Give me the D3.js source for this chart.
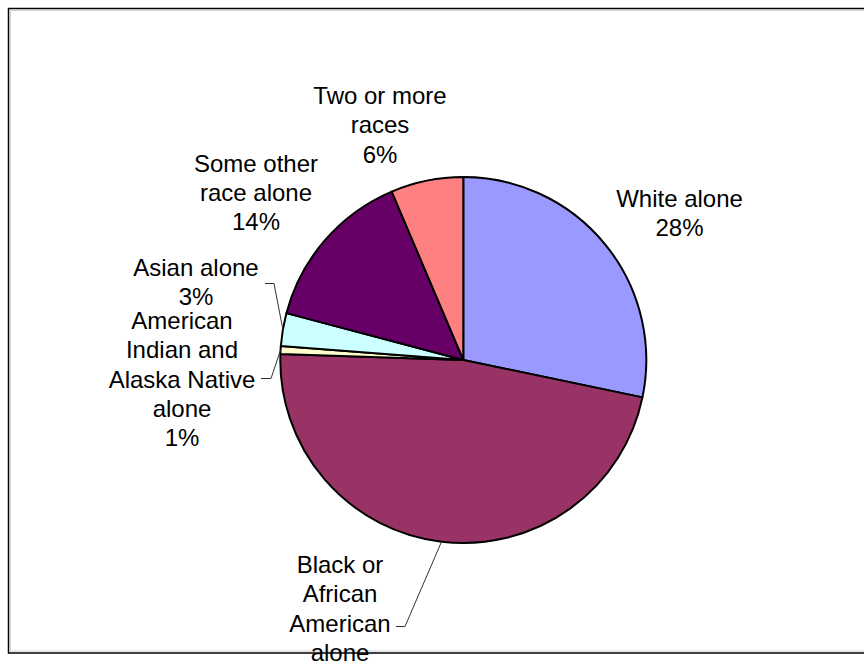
<!DOCTYPE html>
<html><head><meta charset="utf-8">
<script src="https://cdn.jsdelivr.net/npm/d3@7"></script>
<style>body{margin:0;background:#fff}svg{display:block}</style>
</head><body>
<svg id="c" width="864" height="664"></svg>
<script>
const categories = ["White alone","Black or African American alone","American Indian and Alaska Native alone","Asian alone","Some other race alone","Two or more races"];
const values = [28.3, 47.3, 0.7, 2.9, 14.5, 6.4];
const percentLabels = ["28%","47%","1%","3%","14%","6%"];
const labelLines = [
  ["White alone"],
  ["Black or","African","American","alone"],
  ["American","Indian and","Alaska Native","alone"],
  ["Asian alone"],
  ["Some other","race alone"],
  ["Two or more","races"]
];
const colors = ["#9999FF","#993366","#FFFFCC","#CCFFFF","#660066","#FF8080"];

const svg = d3.select("#c");
// outer chart border
svg.append("rect").attr("x",8.5).attr("y",8.5).attr("width",870).attr("height",644.5)
  .attr("fill","none").attr("stroke","#000").attr("stroke-width",1.5);
svg.append("rect").attr("x",10.5).attr("y",10.5).attr("width",870).attr("height",640.5)
  .attr("fill","none").attr("stroke","#d0d0d0").attr("stroke-width",1);

const cx = 463.3, cy = 360, R = 183;
const g = svg.append("g").attr("transform",`translate(${cx},${cy})`);
const pie = d3.pie().sort(null).value(d=>d);
const arcs = pie(values);
const arc = d3.arc().innerRadius(0).outerRadius(R);
g.selectAll("path").data(arcs).join("path")
  .attr("d",arc).attr("fill",(d,i)=>colors[i])
  .attr("stroke","#000").attr("stroke-width",2).attr("stroke-linejoin","round");

// label placements (center x, first baseline y) and leader anchors
const labelPos = [
  {x:679.5, y:207},
  {x:340, y:573, leader:{tx:396, ty:626.5, kx:405}},
  {x:182, y:329, leader:{tx:261, ty:378.5, kx:271}},
  {x:196, y:276, leader:{tx:265, ty:283.5, kx:274}},
  {x:256, y:171.5},
  {x:380, y:104}
];
const lh = 29.3;
const lab = svg.append("g").attr("font-family","Liberation Sans, Arial, sans-serif")
  .attr("font-size",24).attr("fill","#000").attr("text-anchor","middle");
labelLines.forEach((lines,i)=>{
  const p = labelPos[i];
  const t = lab.append("text").attr("x",p.x).attr("y",p.y);
  lines.concat([percentLabels[i]]).forEach((s,j)=>{
    t.append("tspan").attr("x",p.x).attr("y",p.y + j*lh).text(s);
  });
  if(p.leader){
    const a = arcs[i];
    const m = (a.startAngle+a.endAngle)/2;
    const ex = cx + R*Math.sin(m), ey = cy - R*Math.cos(m);
    svg.append("polyline")
      .attr("points",`${p.leader.tx},${p.leader.ty} ${p.leader.kx},${p.leader.ty} ${ex},${ey}`)
      .attr("fill","none").attr("stroke","#333").attr("stroke-width",1);
  }
});
</script>
</body></html>
